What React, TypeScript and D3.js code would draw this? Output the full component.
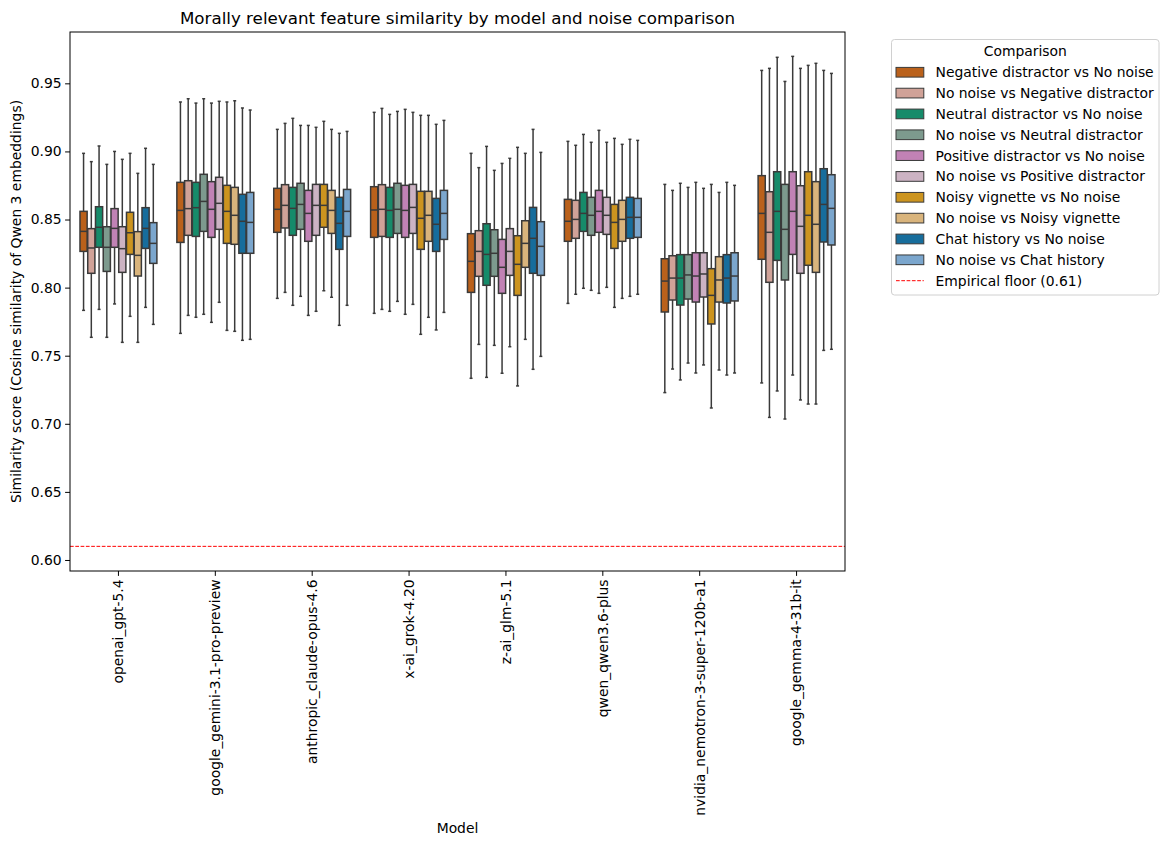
import React, { useEffect, useRef } from 'react';
import * as d3 from 'd3';

const models = [
  'openai_gpt-5.4',
  'google_gemini-3.1-pro-preview',
  'anthropic_claude-opus-4.6',
  'x-ai_grok-4.20',
  'z-ai_glm-5.1',
  'qwen_qwen3.6-plus',
  'nvidia_nemotron-3-super-120b-a1',
  'google_gemma-4-31b-it',
];

const comparisons = [
  'Negative distractor vs No noise',
  'No noise vs Negative distractor',
  'Neutral distractor vs No noise',
  'No noise vs Neutral distractor',
  'Positive distractor vs No noise',
  'No noise vs Positive distractor',
  'Noisy vignette vs No noise',
  'No noise vs Noisy vignette',
  'Chat history vs No noise',
  'No noise vs Chat history',
];

const colors = [
  '#ba611b', '#d0a298', '#168b6a', '#7d9a8e', '#c182b5',
  '#ccb3c3', '#cc941f', '#d9b47c', '#176d9c', '#7ba6cd',
];

// each row: [lower whisker, q1, median, q3, upper whisker]
const openaiStats = [
  [0.7833, 0.8266, 0.8413, 0.8560, 0.8986],
  [0.7635, 0.8105, 0.8291, 0.8433, 0.8925],
  [0.7840, 0.8296, 0.8443, 0.8594, 0.9040],
  [0.7635, 0.8119, 0.8296, 0.8447, 0.8905],
  [0.7880, 0.8296, 0.8435, 0.8580, 0.9000],
  [0.7598, 0.8112, 0.8286, 0.8447, 0.8942],
  [0.7789, 0.8244, 0.8403, 0.8553, 0.8986],
  [0.7598, 0.8085, 0.8237, 0.8411, 0.8839],
  [0.7855, 0.8288, 0.8435, 0.8587, 0.9023],
  [0.7730, 0.8178, 0.8325, 0.8477, 0.8905],
];
const geminiStats = [
  [0.7664, 0.8332, 0.8567, 0.8773, 0.9363],
  [0.7796, 0.8384, 0.8580, 0.8785, 0.9387],
  [0.7782, 0.8376, 0.8587, 0.8773, 0.9355],
  [0.7804, 0.8413, 0.8633, 0.8832, 0.9387],
  [0.7745, 0.8369, 0.8575, 0.8778, 0.9355],
  [0.7892, 0.8428, 0.8619, 0.8810, 0.9368],
  [0.7686, 0.8325, 0.8560, 0.8751, 0.9363],
  [0.7679, 0.8318, 0.8531, 0.8736, 0.9372],
  [0.7613, 0.8252, 0.8487, 0.8685, 0.9319],
  [0.7620, 0.8252, 0.8479, 0.8699, 0.9304],
];
const anthropicStats = [
  [0.7921, 0.8406, 0.8575, 0.8729, 0.9162],
  [0.7965, 0.8438, 0.8604, 0.8756, 0.9206],
  [0.7870, 0.8384, 0.8582, 0.8736, 0.9243],
  [0.7936, 0.8428, 0.8611, 0.8766, 0.9191],
  [0.7796, 0.8340, 0.8545, 0.8714, 0.9191],
  [0.7826, 0.8384, 0.8604, 0.8758, 0.9177],
  [0.7977, 0.8443, 0.8604, 0.8758, 0.9221],
  [0.7929, 0.8398, 0.8567, 0.8714, 0.9162],
  [0.7723, 0.8281, 0.8472, 0.8663, 0.9133],
  [0.7870, 0.8376, 0.8560, 0.8721, 0.9147],
];
const xaiStats = [
  [0.7811, 0.8369, 0.8570, 0.8741, 0.9287],
  [0.7840, 0.8376, 0.8575, 0.8756, 0.9316],
  [0.7826, 0.8369, 0.8567, 0.8736, 0.9272],
  [0.7899, 0.8398, 0.8575, 0.8766, 0.9294],
  [0.7804, 0.8369, 0.8567, 0.8751, 0.9309],
  [0.7877, 0.8398, 0.8589, 0.8758, 0.9287],
  [0.7657, 0.8281, 0.8509, 0.8707, 0.9265],
  [0.7782, 0.8340, 0.8531, 0.8707, 0.9265],
  [0.7689, 0.8266, 0.8465, 0.8655, 0.9199],
  [0.7818, 0.8354, 0.8545, 0.8714, 0.9228],
];
const zaiStats = [
  [0.7334, 0.7965, 0.8193, 0.8396, 0.8986],
  [0.7583, 0.8083, 0.8266, 0.8418, 0.8881],
  [0.7341, 0.8017, 0.8244, 0.8469, 0.9037],
  [0.7576, 0.8083, 0.8252, 0.8425, 0.8861],
  [0.7371, 0.7958, 0.8149, 0.8354, 0.8912],
  [0.7566, 0.8090, 0.8266, 0.8433, 0.8949],
  [0.7278, 0.7943, 0.8171, 0.8381, 0.9030],
  [0.7620, 0.8149, 0.8325, 0.8491, 0.8986],
  [0.7400, 0.8105, 0.8362, 0.8589, 0.9162],
  [0.7495, 0.8090, 0.8303, 0.8484, 0.8993],
];
const qwenStats = [
  [0.7884, 0.8340, 0.8487, 0.8648, 0.9074],
  [0.7951, 0.8362, 0.8501, 0.8641, 0.9045],
  [0.7995, 0.8413, 0.8545, 0.8699, 0.9125],
  [0.7980, 0.8384, 0.8531, 0.8663, 0.9067],
  [0.7958, 0.8406, 0.8560, 0.8714, 0.9155],
  [0.8002, 0.8391, 0.8531, 0.8663, 0.9067],
  [0.7855, 0.8288, 0.8479, 0.8611, 0.9096],
  [0.7921, 0.8340, 0.8501, 0.8641, 0.9052],
  [0.7936, 0.8362, 0.8516, 0.8663, 0.9089],
  [0.7951, 0.8369, 0.8516, 0.8655, 0.9081],
];
const nvidiaStats = [
  [0.7229, 0.7821, 0.8048, 0.8212, 0.8758],
  [0.7402, 0.7909, 0.8070, 0.8234, 0.8714],
  [0.7322, 0.7872, 0.8070, 0.8242, 0.8766],
  [0.7446, 0.7916, 0.8093, 0.8242, 0.8736],
  [0.7373, 0.7894, 0.8085, 0.8256, 0.8773],
  [0.7432, 0.7931, 0.8100, 0.8256, 0.8729],
  [0.7116, 0.7733, 0.7943, 0.8139, 0.8758],
  [0.7395, 0.7894, 0.8056, 0.8227, 0.8699],
  [0.7358, 0.7887, 0.8070, 0.8242, 0.8773],
  [0.7373, 0.7902, 0.8085, 0.8256, 0.8751],
];
const gemmaStats = [
  [0.7300, 0.8208, 0.8545, 0.8822, 0.9595],
  [0.7047, 0.8039, 0.8406, 0.8704, 0.9610],
  [0.7241, 0.8200, 0.8560, 0.8851, 0.9691],
  [0.7035, 0.8056, 0.8428, 0.8758, 0.9514],
  [0.7358, 0.8244, 0.8560, 0.8851, 0.9698],
  [0.7175, 0.8105, 0.8450, 0.8748, 0.9610],
  [0.7145, 0.8164, 0.8531, 0.8851, 0.9632],
  [0.7145, 0.8112, 0.8465, 0.8778, 0.9647],
  [0.7539, 0.8335, 0.8611, 0.8873, 0.9595],
  [0.7547, 0.8313, 0.8582, 0.8829, 0.9573],
];

const allStats = [openaiStats, geminiStats, anthropicStats, xaiStats, zaiStats, qwenStats, nvidiaStats, gemmaStats];

const yTicks = [0.60, 0.65, 0.70, 0.75, 0.80, 0.85, 0.90, 0.95];
const floorValue = 0.61;

const FONT = 'DejaVu Sans, sans-serif';

export default function App() {
  const ref = useRef<SVGSVGElement>(null);

  useEffect(() => {
    const svg = d3.select(ref.current);
    svg.selectAll('*').remove();

    const left = 70, right = 845, top = 32, bottom = 571;

    const x = d3.scaleBand().domain(models).range([left, right]).padding(0);
    const bw = x.bandwidth();
    const hue = d3.scaleBand().domain(comparisons).range([-bw * 0.4, bw * 0.4]).padding(0);
    const y = d3.scaleLinear().domain([0.5919, 0.9877]).range([bottom, top]);

    const edge = '#3a3a3a';
    const g = svg.append('g');

    // boxes
    models.forEach((m, mi) => {
      const cx0 = x(m)! + bw / 2;
      allStats[mi].forEach((s, ci) => {
        const [lo, q1, med, q3, hi] = s;
        const bx = cx0 + hue(comparisons[ci])!;
        const w = hue.bandwidth() - 0.6;
        const cx = bx + hue.bandwidth() / 2;
        const box = g.append('g');
        const capW = w * 0.42;
        box.append('line').attr('x1', cx).attr('x2', cx).attr('y1', y(hi)).attr('y2', y(q3))
          .attr('stroke', edge).attr('stroke-width', 1.5);
        box.append('line').attr('x1', cx).attr('x2', cx).attr('y1', y(q1)).attr('y2', y(lo))
          .attr('stroke', edge).attr('stroke-width', 1.5);
        box.append('line').attr('x1', cx - capW / 2).attr('x2', cx + capW / 2).attr('y1', y(hi)).attr('y2', y(hi))
          .attr('stroke', edge).attr('stroke-width', 1.5);
        box.append('line').attr('x1', cx - capW / 2).attr('x2', cx + capW / 2).attr('y1', y(lo)).attr('y2', y(lo))
          .attr('stroke', edge).attr('stroke-width', 1.5);
        box.append('rect')
          .attr('x', cx - w / 2).attr('width', w)
          .attr('y', y(q3)).attr('height', y(q1) - y(q3))
          .attr('fill', colors[ci]).attr('stroke', edge).attr('stroke-width', 1.5);
        box.append('line').attr('x1', cx - w / 2).attr('x2', cx + w / 2).attr('y1', y(med)).attr('y2', y(med))
          .attr('stroke', edge).attr('stroke-width', 1.5);
      });
    });

    // floor line
    svg.append('line')
      .attr('x1', left).attr('x2', right)
      .attr('y1', y(floorValue)).attr('y2', y(floorValue))
      .attr('stroke', 'red').attr('stroke-width', 1)
      .attr('stroke-dasharray', '3.7,1.6');

    // frame
    svg.append('rect')
      .attr('x', left).attr('y', top).attr('width', right - left).attr('height', bottom - top)
      .attr('fill', 'none').attr('stroke', 'black').attr('stroke-width', 1);

    // y axis
    const yAxis = svg.append('g').attr('transform', `translate(${left},0)`)
      .call(d3.axisLeft(y).tickValues(yTicks).tickFormat(d3.format('.2f')).tickSizeOuter(0).tickSize(4.9).tickPadding(3.5));
    yAxis.select('.domain').remove();
    yAxis.selectAll('text').attr('font-family', FONT).attr('font-size', 13.9).attr('fill', 'black');
    yAxis.selectAll('line').attr('stroke', 'black');

    // x axis
    const xAxis = svg.append('g').attr('transform', `translate(0,${bottom})`)
      .call(d3.axisBottom(x).tickSizeOuter(0).tickSize(4.9).tickPadding(3.5));
    xAxis.select('.domain').remove();
    xAxis.selectAll('line').attr('stroke', 'black');
    xAxis.selectAll('text')
      .attr('font-family', FONT).attr('font-size', 13.9).attr('fill', 'black')
      .attr('transform', 'rotate(-90)')
      .attr('x', -8.4).attr('y', 0).attr('dy', '0.35em')
      .attr('text-anchor', 'end');

    // labels
    svg.append('text').attr('x', (left + right) / 2).attr('y', 23.5)
      .attr('text-anchor', 'middle').attr('font-family', FONT).attr('font-size', 16.7)
      .text('Morally relevant feature similarity by model and noise comparison');
    svg.append('text').attr('x', (left + right) / 2).attr('y', 833)
      .attr('text-anchor', 'middle').attr('font-family', FONT).attr('font-size', 13.9)
      .text('Model');
    svg.append('text')
      .attr('transform', `translate(21,${(top + bottom) / 2}) rotate(-90)`)
      .attr('text-anchor', 'middle').attr('font-family', FONT).attr('font-size', 13.9)
      .text('Similarity score (Cosine similarity of Qwen 3 embeddings)');

    // legend
    const lg = svg.append('g');
    lg.append('rect').attr('x', 891.5).attr('y', 39.5).attr('width', 267.5).attr('height', 255.5)
      .attr('rx', 3).attr('fill', 'white').attr('stroke', '#d0d0d0').attr('stroke-width', 1);
    lg.append('text').attr('x', 1025.3).attr('y', 51).attr('dy', '0.35em')
      .attr('text-anchor', 'middle').attr('font-family', FONT).attr('font-size', 13.9)
      .text('Comparison');
    const rowY = (i: number) => 72.3 + i * 20.84;
    comparisons.forEach((c, i) => {
      lg.append('rect').attr('x', 896).attr('y', rowY(i) - 4.9).attr('width', 27.8).attr('height', 9.7)
        .attr('fill', colors[i]).attr('stroke', edge).attr('stroke-width', 1);
      lg.append('text').attr('x', 935.5).attr('y', rowY(i)).attr('dy', '0.35em')
        .attr('font-family', FONT).attr('font-size', 13.9).text(c);
    });
    const fy = rowY(comparisons.length);
    lg.append('line').attr('x1', 896).attr('x2', 923.8).attr('y1', fy).attr('y2', fy)
      .attr('stroke', 'red').attr('stroke-width', 1).attr('stroke-dasharray', '3.7,1.6');
    lg.append('text').attr('x', 935.5).attr('y', fy).attr('dy', '0.35em')
      .attr('font-family', FONT).attr('font-size', 13.9).text(`Empirical floor (${floorValue})`);
  }, []);

  return (
    <svg ref={ref} width={1168} height={846}
      style={{ position: 'absolute', left: 0, top: 0, background: 'white' }} />
  );
}
